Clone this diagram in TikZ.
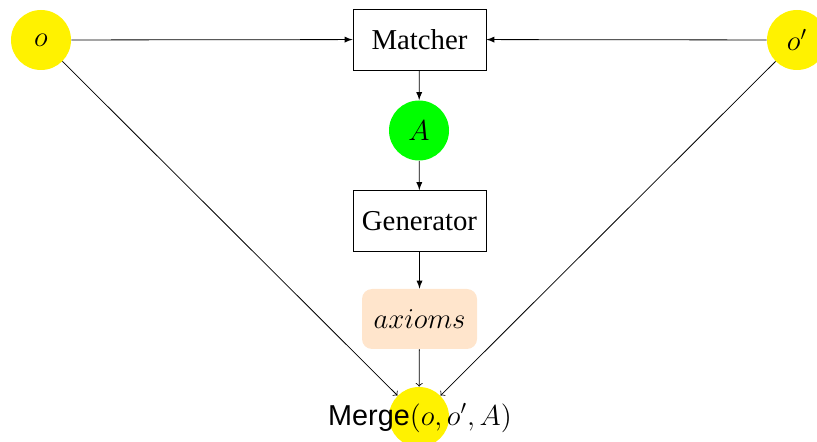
\documentclass[tikz,border=0pt]{standalone}
\usepackage{fontspec}
\setmainfont{Liberation Serif}
\setsansfont{Liberation Sans}
\usetikzlibrary{arrows}
\begin{document}
\begin{tikzpicture}[x=0.5pt,y=-0.5pt,
  font=\fontsize{14.4}{17}\selectfont,
  ball/.style={circle,minimum size=30pt,inner sep=0pt},
  box/.style={draw,rectangle,minimum width=66.5pt,minimum height=30.5pt,inner sep=0pt},
  flow/.style={-latex},
  tomerge/.style={->}]
\useasboundingbox (0,0) rectangle (817,442);
\node[ball,fill=yellow] (o) at (41,40) {$o$};
\node[ball,fill=yellow] (op) at (797,40) {$o'$};
\node[box] (matcher) at (419.5,39.5) {Matcher};
\node[ball,fill=green] (A) at (419,130.5) {$A$};
\node[box] (gen) at (419.5,221) {Generator};
\node[rectangle,rounded corners=5pt,fill=orange!20,minimum width=57.5pt,minimum height=30pt,inner sep=0pt] (ax) at (419.5,319) {$axioms$};
\node[ball,fill=yellow] (merge) at (419,417) {};
\node[anchor=base] (mtext) at (420,425) {\textsf{Merge}$(o,o',A)$};
\draw[flow] (o) -- (matcher);
\draw[flow] (op) -- (matcher);
\draw[flow] (matcher) -- (A);
\draw[flow] (A) -- (gen);
\draw[flow] (gen) -- (ax);
\draw[tomerge] (ax) -- (merge);
\draw[tomerge] (o) -- (merge);
\draw[tomerge] (op) -- (merge);
\end{tikzpicture}
\end{document}
